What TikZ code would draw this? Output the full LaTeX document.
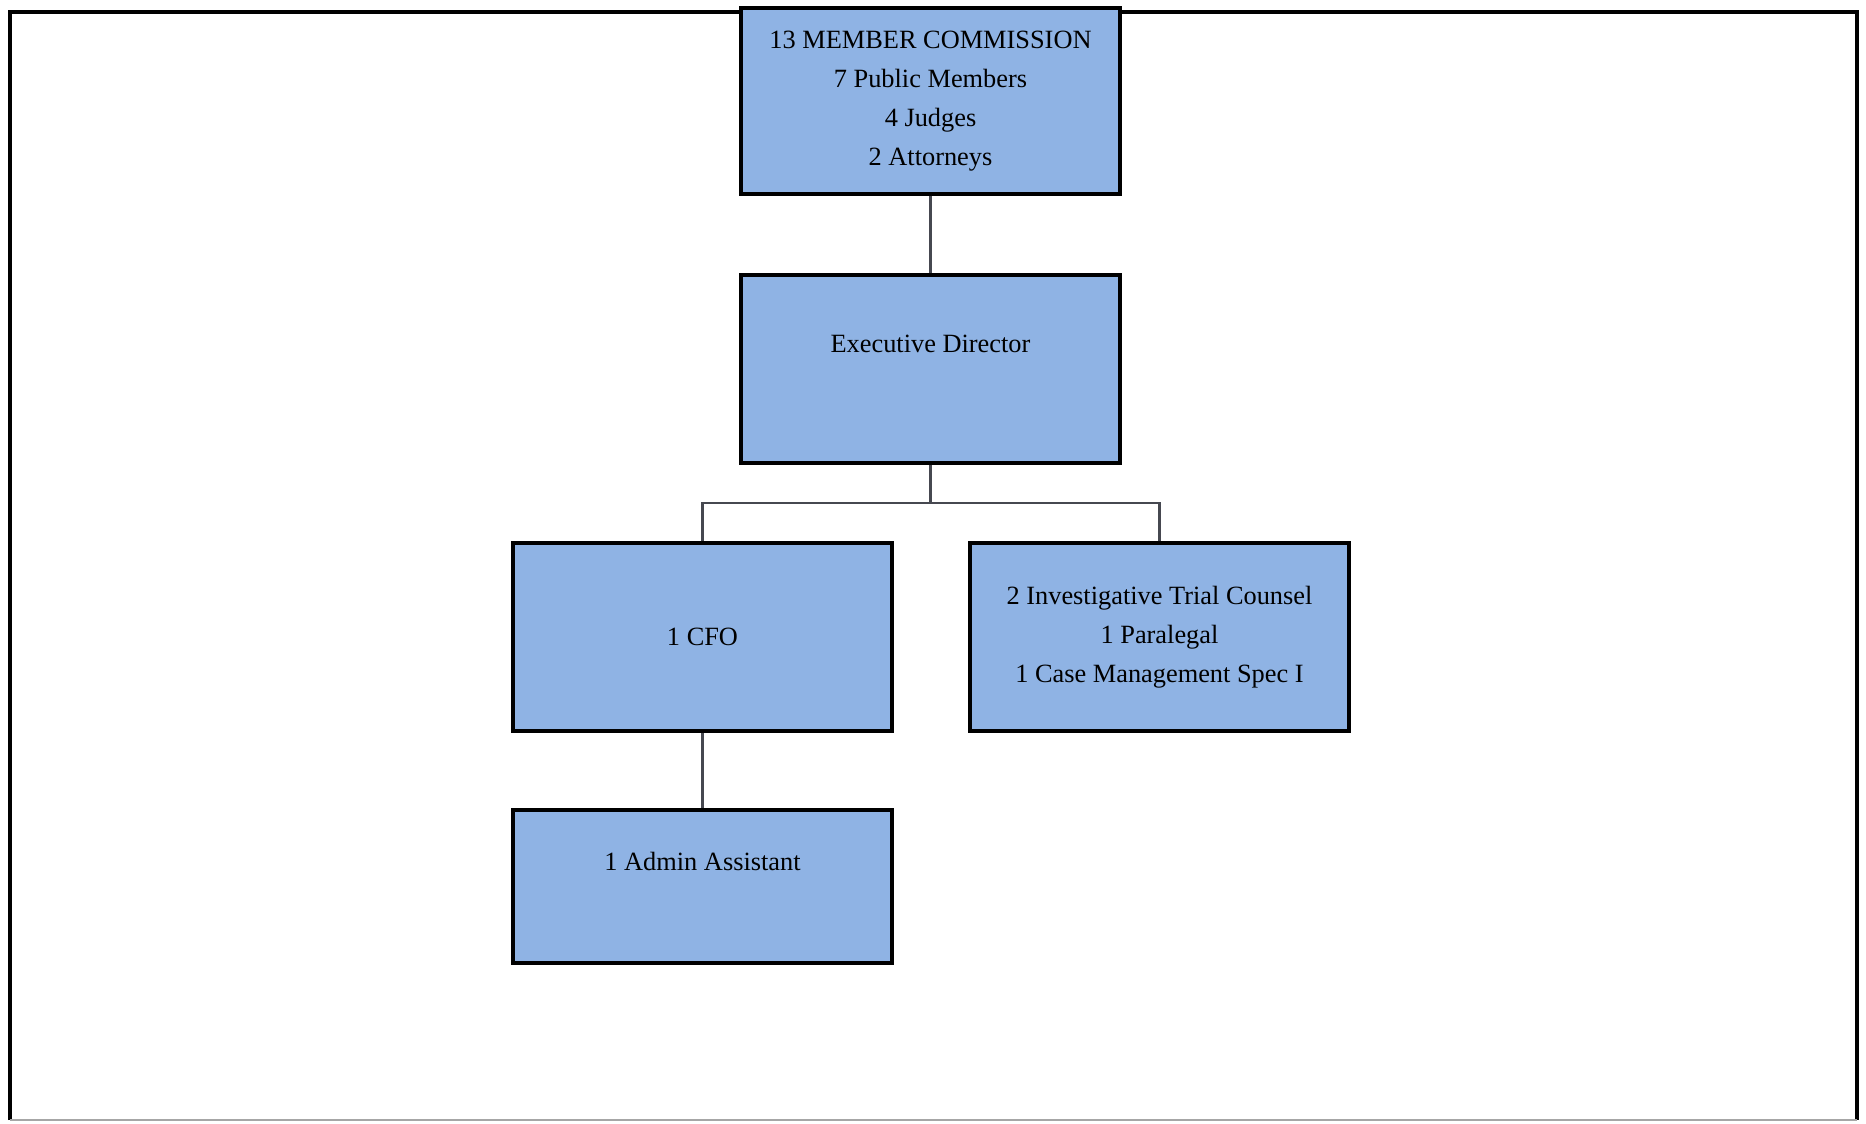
\documentclass[tikz,border=0pt]{standalone}
\usepackage{fontspec}
\setmainfont{Liberation Serif}
\usetikzlibrary{positioning}
\definecolor{boxblue}{RGB}{143,179,228}
\definecolor{linkgray}{RGB}{70,72,80}

\begin{document}
\begin{tikzpicture}[x=0.02cm, y=-0.02cm,
		orgbox/.style={draw=black, line width=2.2pt, fill=boxblue, minimum width=7.58cm, minimum height=3.76cm, inner sep=0pt, align=center, font=\fontsize{15}{22.2}\selectfont},
		orglink/.style={draw=linkgray, line width=1.6pt}]
			%%%%% START %%%%%
			
			\useasboundingbox (0,0) rectangle (1866,1123);
			
			\draw[line width=2.4pt] (10,1120) -- (10,12) -- (1857,12) -- (1857,1120);
			\draw[line width=0.8pt, color=black!35] (10,1120) -- (1857,1120);
			
			\node[orgbox, minimum height=3.72cm] (commission) at (930.5,101) {13 MEMBER COMMISSION\\7 Public Members\\4 Judges\\2 Attorneys};
			\node[orgbox] (director) at (930.5,369) {Executive Director\\\strut};
			
			\node[orgbox] (cfo) at (702.5,637) {1 CFO};
			\node[orgbox] (counsel) at (1159.5,637) {2 Investigative Trial Counsel\\1 Paralegal\\1 Case Management Spec I};
			
			\node[orgbox, minimum height=3.06cm] (admin) at (702.5,886.5) {1 Admin Assistant\\\strut};
			
			\coordinate (fork) at (930.5,503);
			
			\draw[orglink] (commission.south) -- (director.north);
			\draw[orglink] (director.south) -- (fork);
			\draw[orglink] (cfo.north) |- (fork) -| (counsel.north);
			\draw[orglink] (cfo.south) -- (admin.north);
			
			%%%%% END %%%%%
\end{tikzpicture}
\end{document}
